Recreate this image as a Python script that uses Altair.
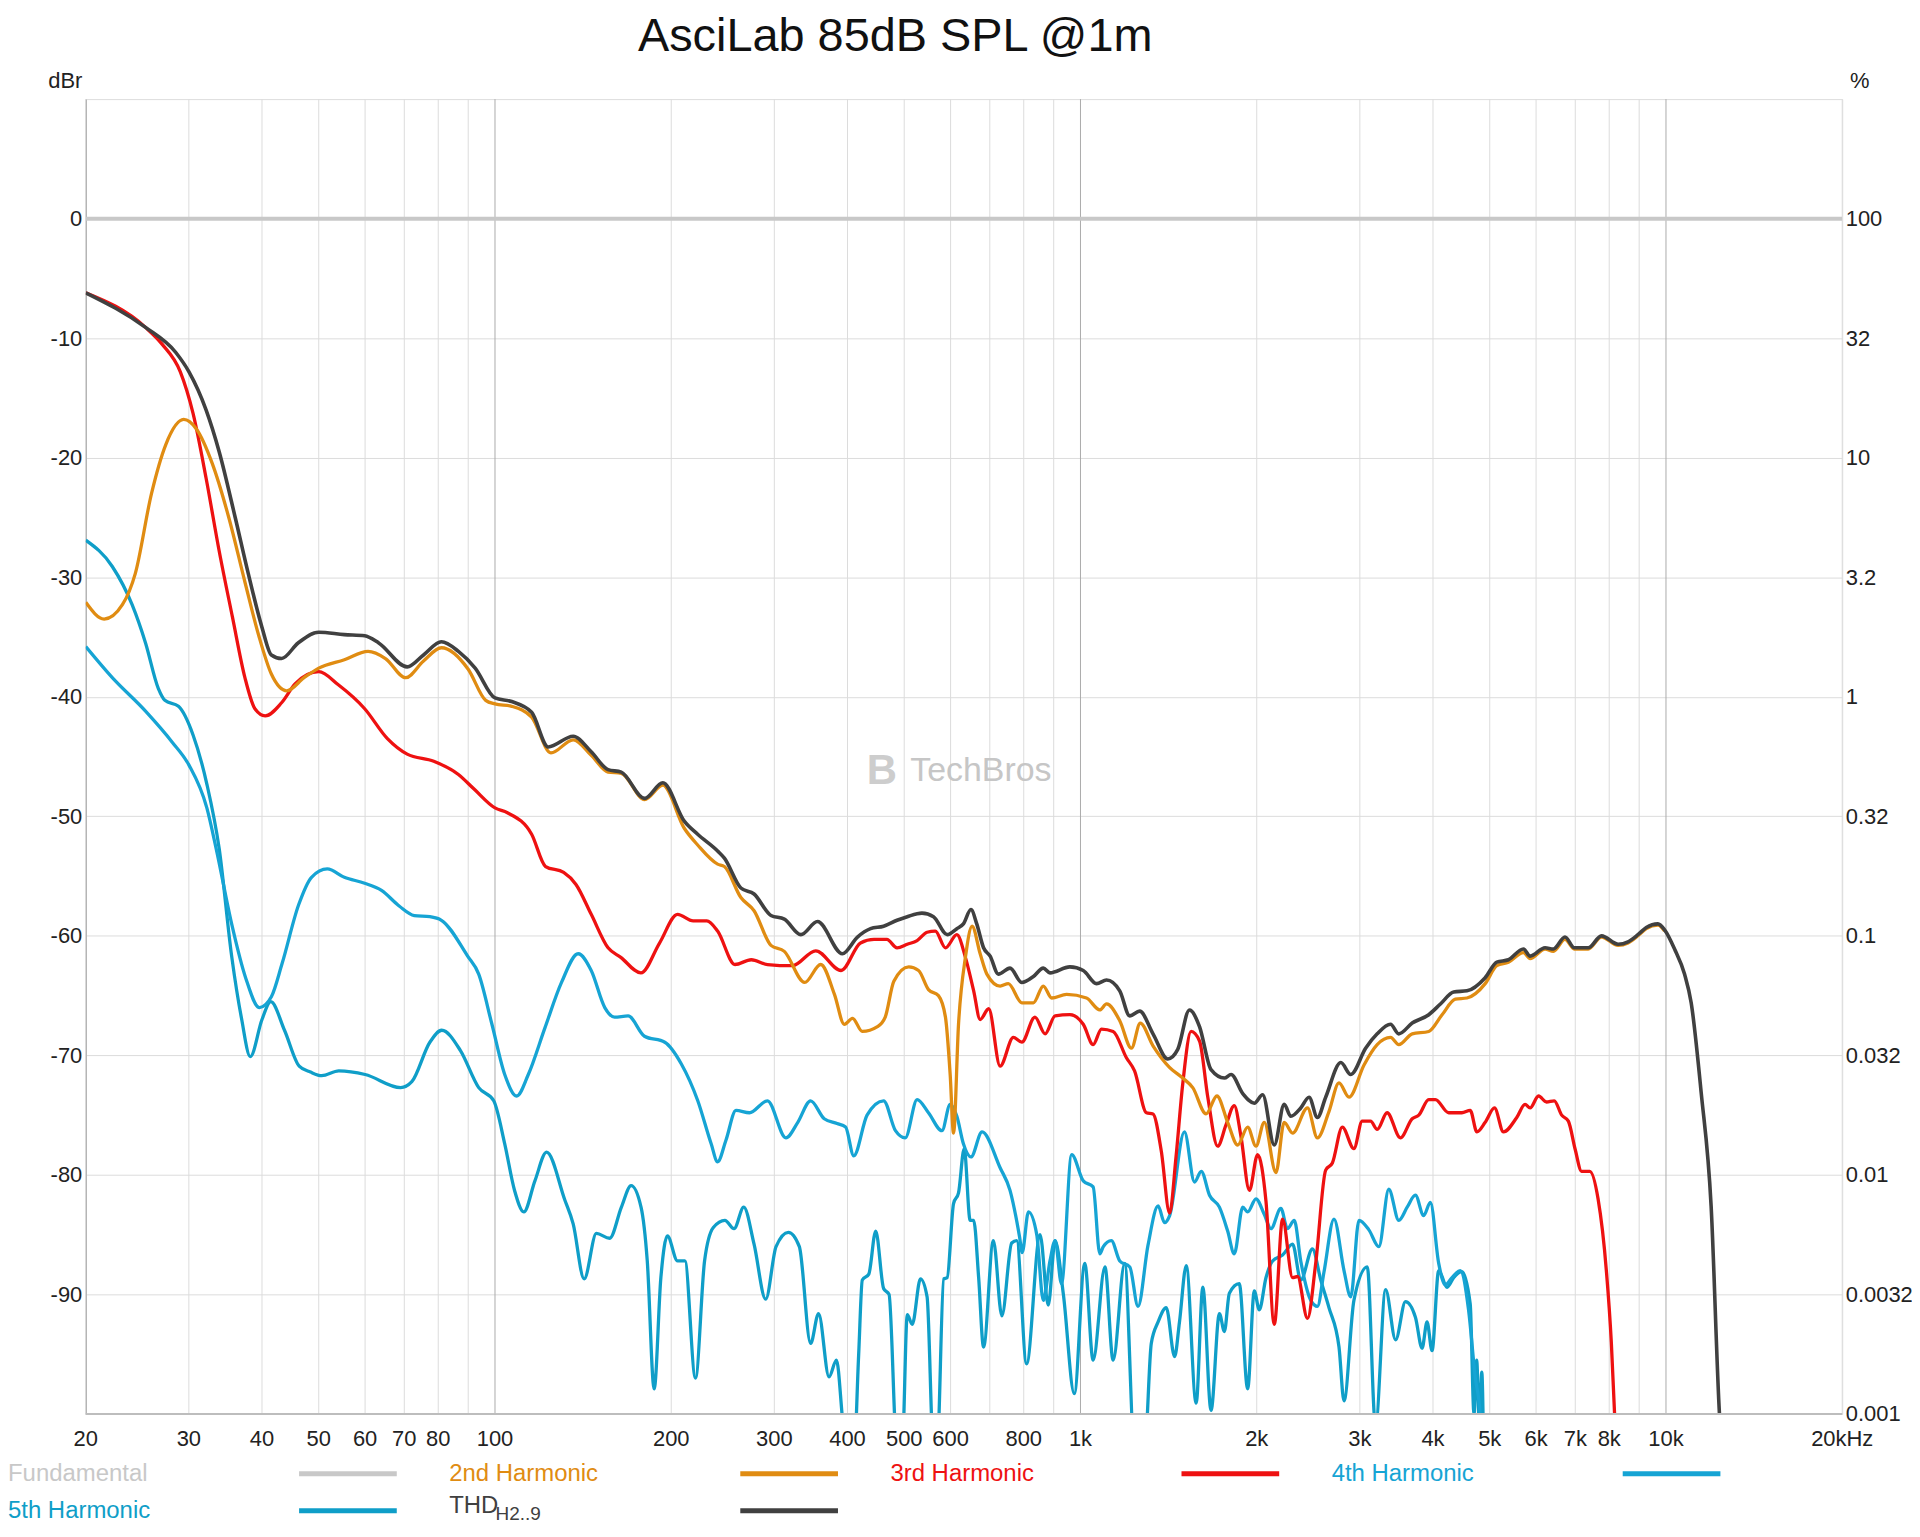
import json
import altair as alt
import pandas as pd

W, H = 1762, 1319
FONT = "Liberation Sans"

TITLE = "AsciLab 85dB SPL @1m"
WATERMARK = "TechBros"

X_GRID = [20, 30, 40, 50, 60, 70, 80, 90, 100, 200, 300, 400, 500, 600, 700, 800, 900,
          1000, 2000, 3000, 4000, 5000, 6000, 7000, 8000, 9000, 10000, 20000]
X_MAJOR = [100, 1000, 10000]
X_TICKS = [20, 30, 40, 50, 60, 70, 80, 100, 200, 300, 400, 500, 600, 800,
           1000, 2000, 3000, 4000, 5000, 6000, 7000, 8000, 10000, 20000]
X_TICK_LABELS = ["20", "30", "40", "50", "60", "70", "80", "100", "200", "300", "400", "500", "600", "800",
                 "1k", "2k", "3k", "4k", "5k", "6k", "7k", "8k", "10k", "20kHz"]
Y_LEFT_TICKS = [0, -10, -20, -30, -40, -50, -60, -70, -80, -90]
Y_RIGHT_TICKS = [0, -10, -20, -30, -40, -50, -60, -70, -80, -90, -100]
PCT_LABELS = ["100", "32", "10", "3.2", "1", "0.32", "0.1", "0.032", "0.01", "0.0032", "0.001"]

LEG_NAMES = ["Fundamental", "2nd Harmonic", "3rd Harmonic", "4th Harmonic", "5th Harmonic", "THD"]
LEG_COLORS = ["#c8c8c8", "#e08c12", "#ee1111", "#16a4d4", "#0f9ec8", "#404040"]
THD_SUB = "H2..9"

fund_f = [20, 20000]
fund_db = [0, 0]

thd_f = [20, 25.3, 28.5, 30, 32.1, 33.8, 36, 37.9, 40, 41.5, 43.2, 46.1, 50, 55.3, 59.9, 63.3, 70.8, 75.5, 81, 86.6,
         92.5, 100, 106.8, 115.5, 123.3, 136, 146, 156, 164.3, 180.1, 193.5, 210.5, 221.9, 240, 246.5, 263, 277, 296, 312, 333,
         355.5, 392, 416, 438, 461, 486, 506, 536, 561, 592, 615, 631, 650, 665, 683, 701, 724, 758, 794, 831,
         864, 887, 959, 1011, 1065, 1108, 1167, 1214, 1262, 1330, 1410, 1466, 1535, 1597, 1671, 1761, 1808, 1893, 1981, 2047,
         2143, 2228, 2287, 2378, 2457, 2539, 2623, 2784, 2895, 3069, 3212, 3385, 3497, 3686, 3934, 4119, 4339, 4572, 4912, 5141,
         5382, 5708, 5860, 6216, 6423, 6722, 6973, 7364, 7761, 8283, 8613, 8957, 9255, 9689, 9946, 10343, 10757, 11042, 11484, 11943,
         12341, 12600]
thd_db = [-6.2, -9.1, -11.2, -12.8, -16, -19.5, -25, -29.7, -34.2, -36.5, -36.8, -35.5, -34.6, -34.8, -34.9, -35.5, -37.5, -36.5, -35.4, -36.2,
          -37.6, -40.1, -40.4, -41.3, -44.2, -43.3, -44.6, -46.1, -46.3, -48.5, -47.2, -50.4, -51.5, -52.9, -53.5, -56, -56.5, -58.3, -58.6, -59.9,
          -58.8, -61.5, -60.1, -59.4, -59.2, -58.7, -58.4, -58.1, -58.4, -59.9, -59.4, -59.0, -57.8, -59.0, -61.0, -61.7, -63.2, -62.7, -63.9, -63.4,
          -62.7, -63.1, -62.6, -62.9, -64.0, -63.7, -64.6, -66.7, -66.3, -68.2, -70.3, -69.5, -66.2, -67.6, -71.2, -71.9, -71.6, -73.2, -74.0, -73.3,
          -77.5, -74.1, -75.1, -74.4, -73.5, -75.2, -73.5, -70.6, -71.6, -69.4, -68.2, -67.4, -68.2, -67.3, -66.6, -65.7, -64.7, -64.6, -63.5, -62.2,
          -62.0, -61.1, -61.7, -61.0, -61.1, -60.1, -61.0, -61.0, -60.0, -60.7, -60.5, -59.9, -59.3, -59.0, -59.5, -61.1, -63.2, -65.6, -73.1, -82.6,
          -100, -106]

h2_f = [20, 21.5, 23.1, 24.3, 25.9, 27.4, 29.4, 30.9, 32.9, 35.1, 37.4, 39.5, 41.5, 44.1, 47.2, 50, 55.3, 60.7, 65, 70.4,
        75.5, 81, 90, 96.4, 100, 106.8, 115.5, 124.6, 136, 146, 156, 164.3, 180.1, 193.5, 210.5, 221.9, 240, 246.5, 263, 277,
        296, 312, 338, 360, 380, 395, 408, 424, 450, 464, 480, 509, 529, 550, 572, 588, 599, 607, 619, 636,
        653, 674, 692, 729, 753, 794, 831, 864, 893, 947, 1024, 1079, 1108, 1167, 1222, 1265, 1330, 1419, 1495, 1555,
        1639, 1710, 1784, 1856, 1930, 1994, 2060, 2157, 2228, 2303, 2442, 2539, 2657, 2764, 2875, 3050, 3212, 3385, 3497, 3686,
        3934, 4146, 4367, 4572, 4912, 5141, 5382, 5708, 5860, 6216, 6423, 6722, 6973, 7364, 7761, 8283, 8613, 8957, 9255, 9689,
        9946]
h2_db = [-32.1, -33.5, -32.3, -29.7, -23, -18.9, -16.8, -17.6, -20.5, -25, -30.4, -34.9, -38.1, -39.5, -38.4, -37.6, -36.9, -36.2, -36.8, -38.4,
         -37, -35.9, -37.7, -40.3, -40.6, -40.8, -41.7, -44.7, -43.6, -44.9, -46.3, -46.4, -48.6, -47.4, -51, -52.4, -54, -54.2, -56.8, -57.9,
         -60.8, -61.3, -63.9, -62.4, -64.9, -67.4, -66.9, -68, -67.6, -66.8, -63.8, -62.6, -62.9, -64.5, -65, -66.8, -71.6, -76.5, -67.4, -61.8,
         -59.2, -61.5, -63.2, -64.2, -64, -65.6, -65.6, -64.2, -65.2, -64.9, -65.2, -66.2, -65.7, -67.1, -69.4, -67.3, -69.2, -71, -71.9, -72.7,
         -74.9, -73.4, -75.6, -77.5, -76, -77.6, -75.6, -79.8, -75.6, -76.5, -74.4, -76.9, -74.7, -72.3, -73.5, -70.8, -69.1, -68.5, -69.1, -68.2,
         -68, -66.6, -65.3, -65.2, -64, -62.5, -62.2, -61.4, -61.9, -61.1, -61.3, -60.3, -61.1, -61.1, -60.1, -60.8, -60.6, -60, -59.4, -59.1,
         -59.6]

h3_f = [20, 25.3, 27, 29, 30.5, 32.1, 33.8, 35.6, 37.4, 38.9, 40.5, 43.2, 45.6, 50, 54, 59.9, 65.5, 70.8, 78.6, 86.6,
        92, 100, 105, 115.5, 122, 131, 137.5, 146, 156, 164, 177.5, 191, 205, 218, 230, 240, 257, 274, 292, 322,
        353, 390, 421, 444, 467, 486, 506, 526, 547, 565, 588, 615, 636, 657, 674, 697, 729, 768, 794, 836,
        870, 905, 959, 1011, 1051, 1086, 1137, 1198, 1237, 1296, 1330, 1374, 1420, 1456, 1495, 1545, 1597, 1650, 1715, 1773,
        1831, 1880, 1943, 2007, 2074, 2143, 2214, 2303, 2348, 2442, 2522, 2623, 2693, 2800, 2931, 3028, 3129, 3212, 3340, 3519,
        3686, 3783, 3934, 4038, 4254, 4482, 4631, 4754, 4912, 5095, 5277, 5561, 5745, 5860, 6058, 6250, 6445, 6636, 6812, 7000,
        7176, 7411, 7656, 7910, 8066, 8170, 8300]
h3_db = [-6.2, -9.1, -10.5, -12.8, -16.3, -21.7, -27.8, -33.3, -38.4, -41, -41.6, -40.5, -38.9, -37.9, -39, -41, -43.5, -44.8, -45.4, -46.5,
         -47.7, -49.3, -49.7, -51.5, -54.2, -54.7, -55.7, -58.2, -61, -61.8, -63.1, -60.6, -58.2, -58.75, -58.75, -59.6, -62.4, -62, -62.4, -62.5,
         -61.25, -62.9, -60.6, -60.3, -60.3, -61, -60.7, -60.4, -59.7, -59.6, -61, -59.9, -61.8, -64.6, -67, -66.1, -70.9, -68.5, -68.9, -66.8,
         -68.2, -66.7, -66.6, -67.4, -69.1, -67.8, -68, -70.2, -71.3, -74.8, -74.9, -78, -83.2, -78.5, -72.4, -68, -68.8, -73.5, -77.6, -75.8,
         -74.2, -76.8, -81.3, -78.3, -82.2, -92.5, -83.7, -88.6, -88.5, -92, -87.4, -79.6, -79, -76, -77.8, -75.5, -75.5, -76.2, -74.8, -76.9,
         -75.3, -75, -73.7, -73.7, -74.8, -74.8, -74.6, -76.4, -75.6, -74.4, -76.4, -75.2, -74.1, -74.4, -73.4, -73.9, -73.8, -75, -75.5, -77.9,
         -79.7, -79.7, -82, -88, -94, -100, -106]

h4_f = [20, 22.2, 25.3, 28.1, 30, 32.2, 33.4, 35.5, 37.5, 39.6, 41.5, 43.3, 46.2, 48.6, 51.7, 55.3, 59.9, 64, 68.6, 72.8,
        77.4, 81, 89.8, 93.8, 98.8, 103.9, 108.9, 114, 121.7, 129.9, 138.7, 146, 154, 160, 168.8, 180, 195, 208, 222, 234,
        240, 248, 258, 272, 292, 314, 329, 346, 365, 384, 397, 410, 432, 461, 483, 502, 526, 550, 580, 599,
        615, 631, 650, 679, 729, 758, 787, 795, 815, 842, 864, 887, 905, 928, 966, 1011, 1051, 1079, 1094, 1129,
        1167, 1214, 1254, 1304, 1357, 1392, 1420, 1505, 1566, 1608, 1661, 1727, 1784, 1831, 1893, 1930, 1994, 2060, 2115, 2199,
        2257, 2318, 2378, 2474, 2539, 2606, 2710, 2819, 2895, 2990, 3109, 3233, 3362, 3497, 3614, 3733, 3856, 3959, 4091, 4199,
        4310, 4452, 4601, 4722, 4815, 4860]
h4_db = [-35.8, -38.4, -41.2, -43.8, -45.7, -49.3, -52.7, -59, -63.5, -66, -65.1, -62.3, -57.4, -55.1, -54.4, -55.1, -55.6, -56.2, -57.5, -58.3,
         -58.4, -58.7, -61.7, -63.2, -67.4, -71.6, -73.4, -71.6, -67.7, -63.9, -61.5, -62.9, -66, -66.8, -66.7, -68.4, -68.9, -70.7, -73.8, -77.4,
         -78.9, -77.1, -74.6, -74.8, -73.8, -76.9, -75.6, -73.8, -75.3, -75.7, -76, -78.4, -75, -73.8, -76.3, -76.9, -73.7, -74.8, -76.3, -74.1,
         -75.1, -77.4, -78.5, -76.4, -79.4, -81.3, -85.2, -86.5, -83.1, -85, -90.5, -87.2, -85.5, -89.1, -78.3, -80.5, -81, -86.6, -86, -85.5,
         -87.2, -87.7, -91, -85.9, -82.6, -84, -83.4, -76.4, -80.6, -79.7, -81.7, -82.7, -84.7, -86.6, -82.7, -83.1, -82, -83.3, -84.5, -82.8,
         -84.5, -83.8, -87.2, -90.5, -91, -88.1, -83.7, -88, -90.2, -83.8, -84.6, -86, -81.2, -83.8, -82.7, -81.7, -83.4, -82.3, -87.4, -89.2,
         -88.6, -88, -91.3, -96.9, -100, -106]

h5_f = [20, 22.2, 24, 25.3, 26.6, 27.3, 28.8, 30.5, 32.2, 33.8, 35.5, 36.9, 38.2, 40, 41.4, 43.7, 46.3, 48.4, 50.6, 54.1,
        60, 69, 72.1, 77.4, 81.1, 87.3, 93.8, 99.5, 103.9, 108, 112, 117, 122.5, 131.6, 136, 142, 149, 157, 164.4, 170.8,
        177.6, 182, 187, 192, 197, 205, 211, 220, 228, 236, 247, 256, 266, 277, 290, 302, 317, 331, 346, 357,
        372, 383, 392, 400, 409, 418, 424, 435, 447, 461, 471, 486, 496, 506, 516, 533, 547, 561, 569, 584,
        592, 607, 619, 633, 648, 657, 670, 683, 710, 734, 763, 778, 809, 853, 881, 905, 935, 976, 1017, 1051,
        1101, 1137, 1190, 1237, 1287, 1321, 1357, 1401, 1448, 1476, 1516, 1576, 1618, 1671, 1727, 1761, 1796, 1867, 1930, 1981,
        2020, 2074, 2129, 2214, 2303, 2378, 2490, 2573, 2657, 2764, 2819, 2931, 3089, 3191, 3320, 3453, 3590, 3733, 3832, 3908,
        3985, 4091, 4228, 4339, 4482, 4631, 4700, 4750, 4800, 4846, 4890]
h5_db = [-26.9, -29.1, -32.3, -35.5, -39.3, -40.3, -40.8, -43.2, -47.3, -52.7, -61.7, -66.9, -70.1, -67, -65.5, -67.9, -70.9, -71.4, -71.7, -71.3,
         -71.6, -72.7, -72.2, -68.9, -67.9, -69.6, -72.7, -73.8, -77.4, -81.3, -83.1, -80.5, -78.1, -82.1, -84.1, -88.7, -84.9, -85.3, -82.7, -80.9,
         -82.7, -87.2, -97.9, -88.6, -85.1, -87.2, -87.2, -97, -87.2, -84.4, -83.8, -84.5, -82.7, -85.8, -90.4, -86, -84.8, -86, -94.1, -91.6,
         -96.9, -95.5, -100.3, -105, -105, -95, -88.8, -88.3, -84.7, -89.5, -90, -103, -103, -91.7, -92.5, -88.7, -90.2, -103, -103, -88.7,
         -88.6, -82.4, -81.5, -77.8, -83.8, -83.8, -88.6, -94.4, -85.5, -91.8, -85.7, -85.5, -95.8, -85, -90.9, -85.5, -90, -98.3, -87.4, -95.5,
         -87.7, -95.5, -87.4, -103, -103, -94.1, -92.3, -91.1, -95.2, -92.3, -87.6, -99.1, -89.4, -99.7, -91.6, -93.1, -89.9, -89.1, -97.9, -89.7,
         -91.3, -88.6, -87.2, -86.7, -85.8, -88.8, -86.2, -88.8, -91.1, -94.4, -98.9, -90.5, -87.7, -101, -89.6, -93.8, -90.6, -91.9, -94.5, -92.3,
         -94.7, -88, -89.4, -88.6, -88.1, -90.8, -100, -95.5, -101, -96.5, -106]

x_scale = alt.Scale(type="log", domain=[20, 20000], nice=False)
y_scale = alt.Scale(domain=[-100, 10], nice=False, zero=False)

pct_label_expr = "%s[round(-datum.value / 10)]" % json.dumps(PCT_LABELS)
db_label_expr = "datum.value == 0 ? '0' : '-' + format(-datum.value, 'd')"

y_left_axis = alt.Axis(values=Y_LEFT_TICKS, orient="left", grid=True, gridColor="#dcdcdc", gridWidth=1,
                       ticks=False, domain=True, domainColor="#a8a8a8", domainWidth=1.5,
                       labelExpr=db_label_expr,
                       labelFontSize=22, labelFont=FONT, labelColor="#222222", labelPadding=4,
                       labelOverlap=False, title="dBr", titleAngle=0, titleX=-21, titleY=-19,
                       titleAlign="center", titleBaseline="middle", titleFontSize=22,
                       titleFont=FONT, titleFontWeight="normal", titleColor="#222222")
y_right_axis = alt.Axis(values=Y_RIGHT_TICKS, orient="right", grid=False, ticks=False,
                        domain=False, labelExpr=pct_label_expr, labelFontSize=22, labelFont=FONT,
                        labelColor="#222222", labelPadding=3, labelOverlap=False,
                        title="%", titleAngle=0, titleX=17, titleY=-19, titleAlign="center",
                        titleBaseline="middle", titleFontSize=22, titleFont=FONT,
                        titleFontWeight="normal", titleColor="#222222")


def line_layer(f, db, color, width, yax=None):
    df = pd.DataFrame({"f": f, "db": db})
    return alt.Chart(df).mark_line(color=color, strokeWidth=width, interpolate="monotone",
                                   clip=True, strokeJoin="round").encode(
        x=alt.X("f:Q", scale=x_scale, axis=None),
        y=alt.Y("db:Q", scale=y_scale, axis=yax),
    )


# vertical grid (darker at 100 Hz, 1 kHz, 10 kHz)
grid_df = pd.DataFrame({"f": X_GRID})
grid_df["c"] = ["#ababab" if v in X_MAJOR else "#dcdcdc" for v in X_GRID]
x_grid = alt.Chart(grid_df).mark_rule(strokeWidth=1).encode(
    x=alt.X("f:Q", scale=x_scale, axis=None),
    color=alt.Color("c:N", scale=None),
)
# frequency tick labels under the plot
x_labels = alt.Chart(pd.DataFrame({"f": X_TICKS, "lab": X_TICK_LABELS})).mark_text(
    font=FONT, fontSize=22, color="#222222", align="center", baseline="top"
).encode(x=alt.X("f:Q", scale=x_scale, axis=None), y=alt.value(H + 15), text="lab:N")
# bottom frame line
x_domain = alt.Chart(pd.DataFrame({"d": [-100]})).mark_rule(color="#bdbdbd", strokeWidth=2).encode(
    y=alt.Y("d:Q", scale=y_scale, axis=None),
)

fund_layer = line_layer(fund_f, fund_db, LEG_COLORS[0], 4, yax=y_left_axis)
h5_layer = line_layer(h5_f, h5_db, LEG_COLORS[4], 3.3, yax=y_right_axis)
h4_layer = line_layer(h4_f, h4_db, LEG_COLORS[3], 3.3)
h3_layer = line_layer(h3_f, h3_db, LEG_COLORS[2], 3.3)
h2_layer = line_layer(h2_f, h2_db, LEG_COLORS[1], 3.3)
thd_layer = line_layer(thd_f, thd_db, LEG_COLORS[5], 3.6)

# watermark
wm_logo = alt.Chart(pd.DataFrame({"t": ["B"]})).mark_text(
    font=FONT, fontSize=42, fontWeight="bold", color="#cdcdcd", align="center", baseline="middle"
).encode(x=alt.XDatum(458, scale=x_scale, axis=None), y=alt.YDatum(-46.2, scale=y_scale, axis=None), text="t:N")
wm_text = alt.Chart(pd.DataFrame({"t": [WATERMARK]})).mark_text(
    font=FONT, fontSize=34, color="#c6c6c6", align="center", baseline="middle"
).encode(x=alt.XDatum(676, scale=x_scale, axis=None), y=alt.YDatum(-46.2, scale=y_scale, axis=None), text="t:N")

# legend (laid out below the plot, label then swatch)
leg_df = pd.DataFrame({"name": LEG_NAMES, "color": LEG_COLORS, "idx": list(range(len(LEG_NAMES)))})
COL_W = 442.6
ROW0 = H + 60
ROW_H = 37
leg_base = alt.Chart(leg_df).transform_calculate(
    col="datum.idx % 4",
    row="floor(datum.idx / 4)",
).transform_calculate(
    tx="-78 + %f * datum.col" % COL_W,
    sx1="214 + %f * datum.col" % COL_W,
    sx2="312 + %f * datum.col" % COL_W,
    ty="%d + %d * datum.row - (datum.name == 'THD' ? 5 : 0)" % (ROW0, ROW_H),
    sy="%d + %d * datum.row" % (ROW0, ROW_H),
)
leg_text = leg_base.mark_text(font=FONT, fontSize=24, align="left", baseline="middle").encode(
    x=alt.X("tx:Q", scale=None), y=alt.Y("ty:Q", scale=None),
    text="name:N", color=alt.Color("color:N", scale=None),
)
leg_swatch = leg_base.mark_rule(strokeWidth=5, strokeCap="butt").encode(
    x=alt.X("sx1:Q", scale=None), x2="sx2:Q", y=alt.Y("sy:Q", scale=None),
    color=alt.Color("color:N", scale=None),
)
leg_sub = alt.Chart(pd.DataFrame({"t": [THD_SUB]})).mark_text(
    font=FONT, fontSize=19, align="left", baseline="alphabetic", color="#404040"
).encode(x=alt.value(361 + 50), y=alt.value(ROW0 + ROW_H + 9), text="t:N")

chart = alt.layer(
    x_grid, fund_layer, h5_layer, h4_layer, h3_layer, h2_layer, thd_layer, x_domain, x_labels,
    wm_logo, wm_text, leg_text, leg_swatch, leg_sub,
).resolve_axis(y="independent").properties(
    width=W, height=H,
    autosize=alt.AutoSizeParams(type="none"),
    padding={"left": 78, "top": 89, "right": 70, "bottom": 110},
    title=alt.TitleParams(TITLE, fontSize=47, font=FONT, fontWeight="normal", color="#111111",
                          anchor="middle", dx=-69, offset=8),
).configure_view(stroke="#d0d0d0", strokeWidth=1).configure(background="white")

chart.save("out.html", embed_options={"renderer": "svg", "actions": False})
